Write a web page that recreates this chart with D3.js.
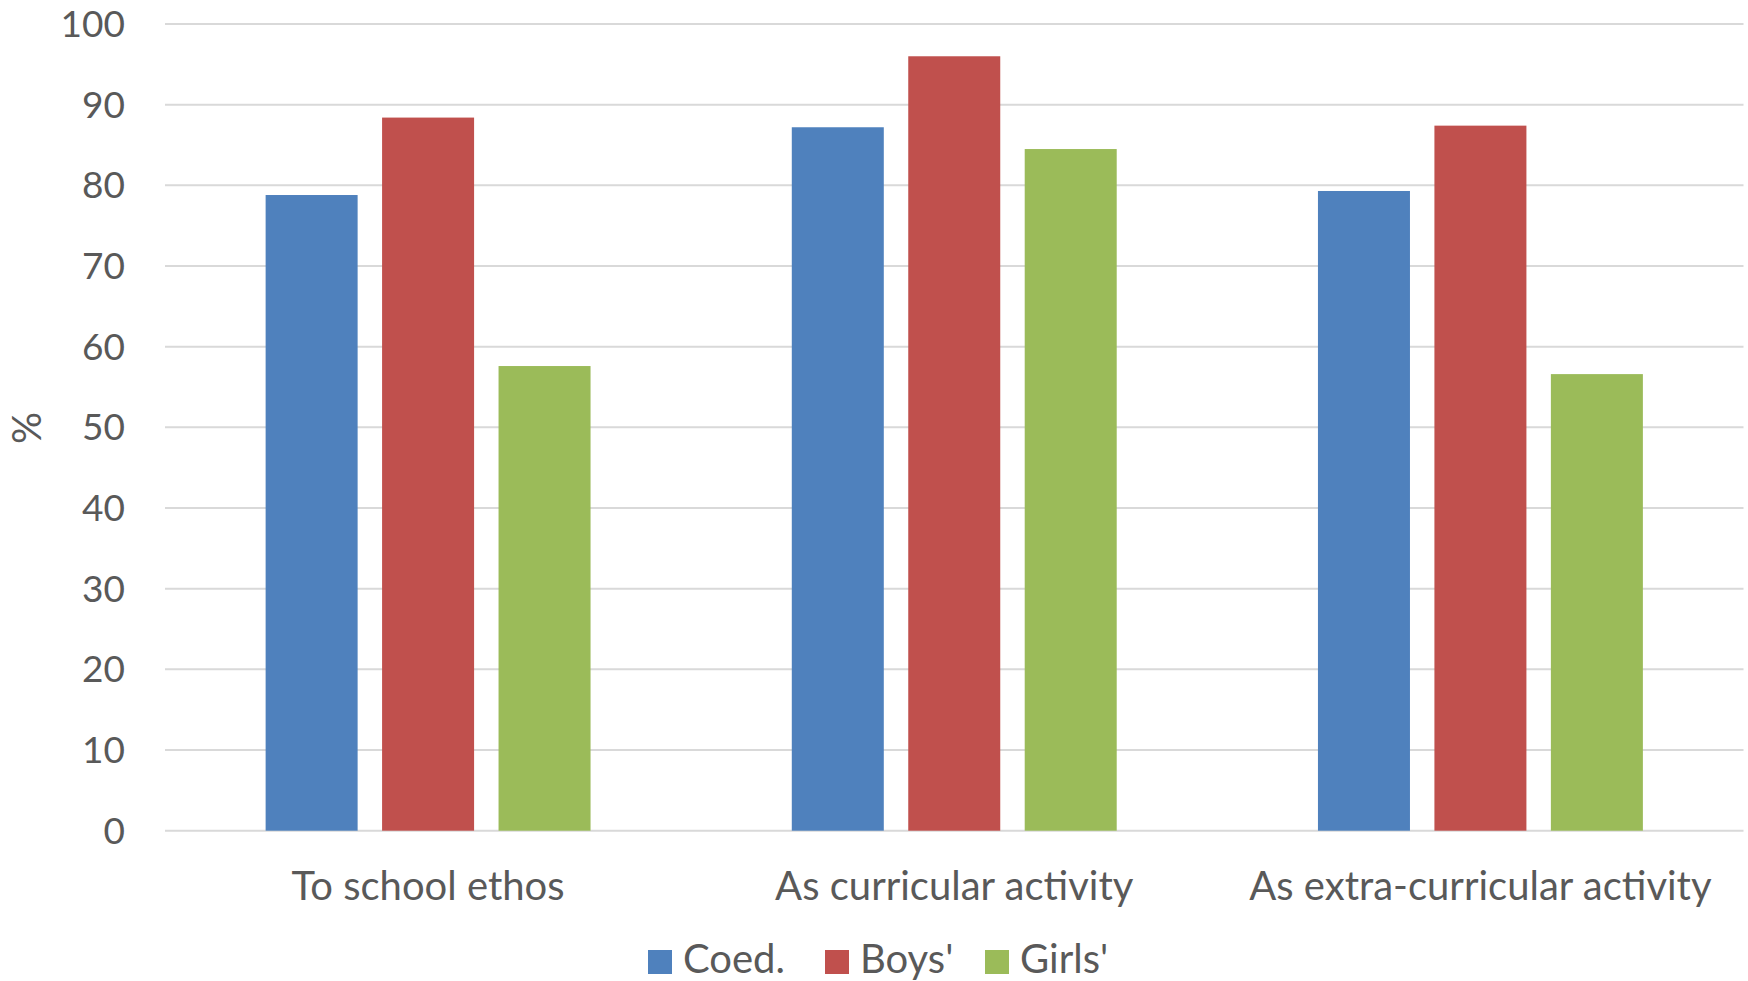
<!DOCTYPE html>
<html>
<head>
<meta charset="utf-8">
<script src="https://cdn.jsdelivr.net/npm/d3@7"></script>
<style>
  html, body { margin: 0; padding: 0; background: #fff; }
  svg { display: block; }
  text { font-family: Lato, "Open Sans", sans-serif; fill: #595959; }
</style>
</head>
<body>
<svg id="chart" width="1748" height="981"></svg>
<script>
// Categories and series values (%)
const categories = ["To school ethos", "As curricular activity", "As extra-curricular activity"];
const seriesNames = ["Coed.", "Boys'", "Girls'"];
const coed  = [78.8, 87.2, 79.3];
const boys  = [88.4, 96.0, 87.4];
const girls = [57.6, 84.5, 56.6];
const yTicks = [0, 10, 20, 30, 40, 50, 60, 70, 80, 90, 100];
const colors = ["#4f81bd", "#c0504d", "#9bbb59"];

const seriesValues = [coed, boys, girls];

const svg = d3.select("#chart");
const plot = { left: 165, right: 1743.5, top: 24, bottom: 830.7 };
const fontSize = 40;
const tickFontSize = 37;

const y = d3.scaleLinear().domain([0, 100]).range([plot.bottom, plot.top]);
const x0 = d3.scaleBand().domain(categories).range([plot.left, plot.right]).padding(0);
const x1 = d3.scaleBand().domain(seriesNames).range([0, x0.bandwidth()])
  .paddingInner(0.21).paddingOuter(0.864);
const color = d3.scaleOrdinal().domain(seriesNames).range(colors);

// Horizontal gridlines (the zero line doubles as the category axis)
svg.append("g")
  .selectAll("line")
  .data(yTicks)
  .join("line")
  .attr("x1", plot.left).attr("x2", plot.right)
  .attr("y1", d => y(d)).attr("y2", d => y(d))
  .attr("stroke", "#d9d9d9").attr("stroke-width", 2);

// Value axis labels
const yAxis = d3.axisLeft(y).tickValues(yTicks).tickSize(0).tickPadding(0);
const yg = svg.append("g").attr("transform", "translate(125,0)").call(yAxis);
yg.select(".domain").remove();
yg.selectAll("text")
  .attr("font-size", tickFontSize)
  .attr("dy", "0.34em")
  .attr("font-family", "Lato, 'Open Sans', sans-serif")
  .attr("fill", "#595959");

// Axis title
svg.append("text")
  .attr("transform", "translate(41,428) rotate(-90)")
  .attr("text-anchor", "middle")
  .attr("font-size", fontSize)
  .text("%");

// Bars
const rows = categories.map((c, i) => ({
  category: c,
  values: seriesNames.map((s, j) => ({ series: s, value: seriesValues[j][i] }))
}));

svg.append("g")
  .selectAll("g")
  .data(rows)
  .join("g")
  .attr("transform", d => `translate(${x0(d.category)},0)`)
  .selectAll("rect")
  .data(d => d.values)
  .join("rect")
  .attr("x", d => x1(d.series))
  .attr("width", x1.bandwidth())
  .attr("y", d => y(d.value))
  .attr("height", d => y(0) - y(d.value))
  .attr("fill", d => color(d.series));

// Category labels
svg.append("g")
  .selectAll("text")
  .data(categories)
  .join("text")
  .attr("x", d => x0(d) + x0.bandwidth() / 2)
  .attr("y", 900)
  .attr("text-anchor", "middle")
  .attr("font-size", fontSize)
  .text(d => d);

// Legend
const legendX = [648, 825, 985];
const legend = svg.append("g")
  .selectAll("g")
  .data(seriesNames)
  .join("g")
  .attr("transform", (d, i) => `translate(${legendX[i]},950)`);
legend.append("rect")
  .attr("width", 24).attr("height", 24)
  .attr("fill", d => color(d));
legend.append("text")
  .attr("x", 35).attr("y", 23)
  .attr("font-size", fontSize)
  .text(d => d);
</script>
</body>
</html>
